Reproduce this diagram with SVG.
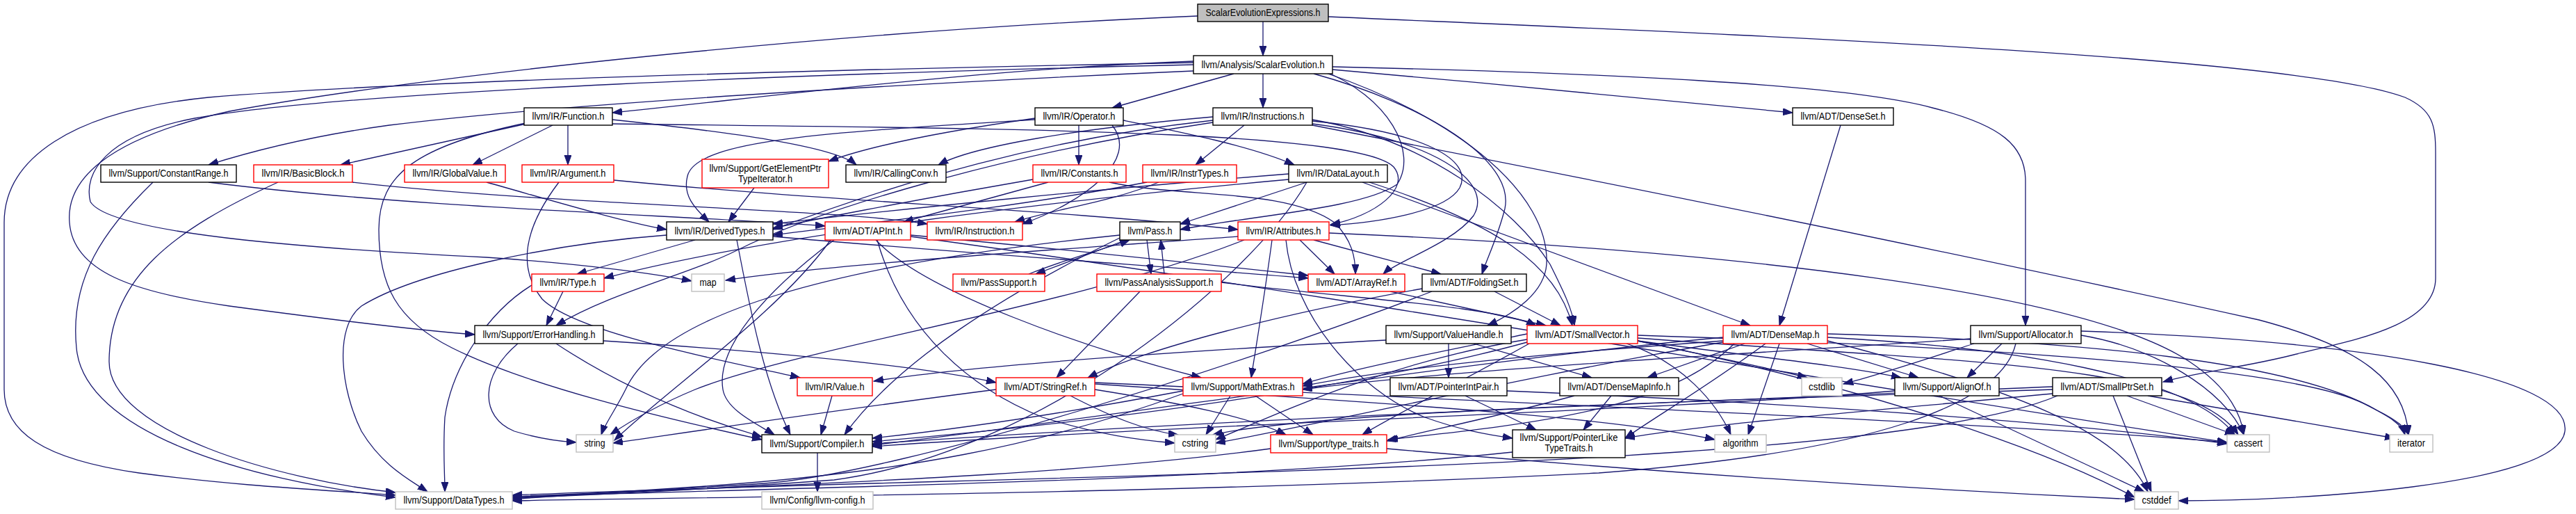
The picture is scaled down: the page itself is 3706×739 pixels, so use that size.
<svg xmlns="http://www.w3.org/2000/svg" width="3706" height="739" viewBox="0 0 3706 739">
<defs>
<marker id="ah" markerUnits="userSpaceOnUse" markerWidth="16" markerHeight="12" refX="14" refY="5" orient="auto">
<path d="M0,0 L14,5 L0,10 z" fill="#191970" stroke="#191970" stroke-width="1"/>
</marker>
<style>
.node rect{fill:#fff;stroke-width:1.4}
.node .b{stroke:#000}
.node .r{stroke:#ff0000}
.node .g{stroke:#bfbfbf}
.node .root{stroke:#000;fill:#bfbfbf}
.node text{font-family:"Liberation Sans",Arial,sans-serif;font-size:14px;fill:#000;text-anchor:middle}
#edges path{fill:none;stroke:#191970;stroke-width:1.3;marker-end:url(#ah)}
</style>
</defs>
<rect width="3706" height="739" fill="#fff"/>
<g id="edges">
<path d="M1817,31 L1817,80"/>
<path d="M1911,24 C2500,50 3300,80 3460,140 C3500,158 3504,180 3504,220 L3504,400 C3504,470 3380,490 3300,510 C3230,528 3160,535 3112,549"/>
<path d="M1723,23 C1200,45 600,110 330,160 C150,200 95,260 100,320 C105,390 190,420 330,440 C480,460 600,475 683,481"/>
<path d="M1717,88 C1400,100 1100,140 881,162"/>
<path d="M1775,106 L1600,155"/>
<path d="M1817,106 L1817,155"/>
<path d="M1917,100 C2150,120 2450,150 2579,162"/>
<path d="M1917,96 C2300,105 2650,120 2780,155 C2880,180 2914,210 2914,260 L2914,468"/>
<path d="M1717,102 C1300,120 800,150 560,180 C450,195 370,215 300,237"/>
<path d="M1717,90 C1200,100 600,115 300,140 C100,160 6,230 6,320 L6,560 C6,620 60,660 200,680 C350,700 480,705 569,712"/>
<path d="M1717,93 C1200,105 500,130 280,170 C150,195 120,250 130,290 C160,340 500,360 700,370 C850,380 950,395 995,404"/>
<path d="M1900,100 C2000,140 2040,220 2010,265 C1960,300 1800,310 1698,330"/>
<path d="M1890,106 C2050,150 2180,230 2165,300 C2155,340 2140,370 2132,394"/>
<path d="M1905,104 C2100,170 2230,280 2225,380 C2222,420 2180,450 2140,468"/>
<path d="M1790,180 L1720,237"/>
<path d="M1888,174 C2050,190 2120,230 2100,270 C2080,305 1980,320 1914,324"/>
<path d="M1888,178 C2060,200 2150,260 2120,310 C2090,350 2010,375 1990,394"/>
<path d="M1888,172 C2050,200 2180,300 2230,380 C2250,420 2262,445 2265,468"/>
<path d="M1745,173 C1500,200 1300,260 1112,330"/>
<path d="M1745,168 C1550,185 1400,210 1350,237"/>
<path d="M1745,176 C1450,220 1180,300 1060,360 C990,395 880,420 800,468"/>
<path d="M1888,180 C2300,260 2800,360 3250,460 C3400,500 3460,550 3465,625"/>
<path d="M1489,170 C1350,190 1250,210 1192,232"/>
<path d="M1552,180 L1552,237"/>
<path d="M1616,173 C1700,190 1800,210 1862,237"/>
<path d="M1489,172 C1200,190 1010,200 990,250 C980,280 1000,300 1020,319"/>
<path d="M1600,180 C1640,230 1560,290 1471,322"/>
<path d="M757,178 L490,237"/>
<path d="M795,180 L680,237"/>
<path d="M817,180 L817,237"/>
<path d="M881,172 C1050,190 1200,210 1232,237"/>
<path d="M881,178 C1400,185 1950,185 2005,240 C2030,270 1980,310 1914,323"/>
<path d="M756,177 C600,210 545,250 545,330 C545,410 570,460 650,500 C760,555 950,600 1096,632"/>
<path d="M1508,262 L1300,319"/>
<path d="M1486,258 C1300,290 1150,320 1112,328"/>
<path d="M1596,262 C1700,285 1850,270 1920,320 C1945,345 1950,370 1950,394"/>
<path d="M1667,262 C1600,290 1520,300 1460,319"/>
<path d="M1650,262 C1450,300 1250,320 1112,338"/>
<path d="M1960,262 L2518,468"/>
<path d="M1970,262 C2150,320 2240,380 2262,468"/>
<path d="M1854,250 C1600,270 1300,300 1112,322"/>
<path d="M1854,258 C1500,290 1100,340 869,400"/>
<path d="M1880,262 C1800,400 1500,650 1200,690 C1000,705 850,712 737,716"/>
<path d="M1880,262 L1698,322"/>
<path d="M1085,270 L1048,319"/>
<path d="M300,262 C600,300 1000,310 1187,325"/>
<path d="M220,262 C150,330 100,400 110,500 C120,620 350,690 569,715"/>
<path d="M507,262 C800,295 1200,300 1334,322"/>
<path d="M400,262 C250,330 157,400 157,520 C157,620 400,690 569,708"/>
<path d="M700,262 C800,290 900,320 959,330"/>
<path d="M883,259 C1200,290 1500,300 1781,330"/>
<path d="M804,262 C760,320 740,380 780,430 C830,480 1050,520 1151,543"/>
<path d="M1000,345 L830,394"/>
<path d="M1112,340 C1400,365 1700,385 1882,400"/>
<path d="M959,338 C800,350 600,390 520,440 C480,470 490,560 520,620 C550,670 590,690 615,707"/>
<path d="M1060,345 C1080,450 1100,550 1137,625"/>
<path d="M1310,338 C1550,360 1780,385 1882,396"/>
<path d="M1260,345 C1330,420 1560,500 1728,543"/>
<path d="M1200,345 C1100,420 1030,500 1040,560 C1045,590 1090,610 1114,625"/>
<path d="M1310,340 C1900,420 2700,560 3204,636"/>
<path d="M1262,345 C1300,480 1400,560 1500,600 C1580,625 1640,633 1690,637"/>
<path d="M1195,345 C1120,450 960,560 884,633"/>
<path d="M1620,345 L1490,394"/>
<path d="M1480,394 C1540,370 1600,355 1625,345"/>
<path d="M1650,345 L1656,394"/>
<path d="M1675,394 L1670,345"/>
<path d="M1611,342 C1450,420 1290,520 1215,625"/>
<path d="M1611,338 C1200,380 950,450 900,560 C885,590 870,610 865,625"/>
<path d="M1757,406 C1950,430 2150,440 2210,468"/>
<path d="M1640,419 L1520,543"/>
<path d="M1870,345 L1920,394"/>
<path d="M1890,345 L2073,394"/>
<path d="M1830,345 C1820,420 1810,480 1800,543"/>
<path d="M1850,345 C1860,450 1950,560 2050,600 C2100,618 2140,625 2176,630"/>
<path d="M1912,335 C2500,360 3000,420 3150,520 C3210,560 3225,600 3228,625"/>
<path d="M1781,340 C1500,360 1200,380 1044,403"/>
<path d="M1790,345 C1550,440 1150,500 1000,560 C940,585 900,610 878,625"/>
<path d="M2000,419 L2224,468"/>
<path d="M2150,419 L2245,468"/>
<path d="M2046,415 C1850,450 1650,500 1565,543"/>
<path d="M2060,419 C1800,520 1300,680 1100,695 C950,705 800,712 737,718"/>
<path d="M868,490 C1100,505 1320,525 1433,550"/>
<path d="M800,494 C900,560 1000,600 1096,628"/>
<path d="M745,494 C690,540 690,600 740,620 C780,632 810,635 829,636"/>
<path d="M2120,494 L2290,543"/>
<path d="M2084,494 L2084,543"/>
<path d="M1994,489 C1700,505 1400,525 1257,548"/>
<path d="M2356,490 C2500,510 2650,525 2735,543"/>
<path d="M2197,492 C1950,560 1550,610 1255,635"/>
<path d="M2197,480 C2050,510 1950,530 1874,552"/>
<path d="M2200,494 C2100,550 2000,600 1960,625"/>
<path d="M2340,494 C2420,520 2470,580 2490,625"/>
<path d="M2356,486 C2800,520 3150,520 3220,625"/>
<path d="M2356,490 C2700,560 2950,650 3071,715"/>
<path d="M2356,490 C2450,510 2550,530 2600,543"/>
<path d="M2197,488 C2000,520 1850,590 1749,632"/>
<path d="M2356,482 C2900,500 3300,530 3400,580 C3440,600 3455,610 3460,625"/>
<path d="M2510,494 L2370,543"/>
<path d="M2600,494 L2760,543"/>
<path d="M2479,485 C2100,520 1600,600 1255,640"/>
<path d="M2479,490 C2200,510 2000,530 1874,555"/>
<path d="M2540,494 C2450,560 2380,600 2338,630"/>
<path d="M2495,494 C2400,590 2200,610 1997,632"/>
<path d="M2560,494 L2515,625"/>
<path d="M2629,485 C2900,500 3150,540 3215,625"/>
<path d="M2629,490 C2900,560 3050,620 3090,707"/>
<path d="M2479,492 C2200,540 1900,610 1749,637"/>
<path d="M2629,480 C3000,490 3300,520 3420,590 C3450,605 3460,615 3465,625"/>
<path d="M2880,494 L2830,543"/>
<path d="M2835,487 C2500,510 2100,530 1874,560"/>
<path d="M2900,494 C2880,580 2700,650 2300,680 C1700,710 1000,715 737,720"/>
<path d="M2994,482 C3100,500 3200,560 3228,625"/>
<path d="M2994,476 C3400,490 3700,540 3690,620 C3680,700 3300,720 3134,720"/>
<path d="M2840,494 C2760,520 2700,540 2652,552"/>
<path d="M1197,569 L1181,625"/>
<path d="M1575,560 C1700,580 1800,600 1850,625"/>
<path d="M1575,552 C1900,575 2300,595 2467,632"/>
<path d="M1575,550 C2200,580 2900,610 3204,636"/>
<path d="M1540,569 C1600,600 1650,620 1695,625"/>
<path d="M1433,560 C1200,590 1000,620 882,637"/>
<path d="M1702,562 C1500,600 1350,620 1255,630"/>
<path d="M1702,566 C1500,640 1300,680 1000,700 C900,707 800,712 737,714"/>
<path d="M1806,569 L1889,625"/>
<path d="M1770,569 L1735,625"/>
<path d="M2108,569 L2210,618"/>
<path d="M2168,562 C2600,580 3000,610 3204,638"/>
<path d="M2318,569 L2278,618"/>
<path d="M2265,569 C2150,600 2050,620 1995,634"/>
<path d="M2726,562 C2400,590 1700,610 1255,642"/>
<path d="M2790,569 L3085,707"/>
<path d="M2953,556 C2500,575 1800,600 1255,638"/>
<path d="M2960,569 C2700,680 1500,680 737,712"/>
<path d="M2953,566 C2700,590 2450,610 2338,630"/>
<path d="M3060,569 L3215,625"/>
<path d="M3040,569 L3095,707"/>
<path d="M2953,560 C2500,575 1900,590 1745,625"/>
<path d="M3090,569 L3445,630"/>
<path d="M1828,645 C1500,690 1000,700 737,716"/>
<path d="M1995,645 C2500,690 2900,710 3071,718"/>
<path d="M2176,650 C1800,690 1200,700 737,714"/>
<path d="M1176,651 L1176,707"/>
<path d="M2648,180 L2560,468"/>
<path d="M810,419 L786,468"/>
<path d="M765,410 C700,450 650,530 640,600 C637,650 640,680 640,707"/>
</g>
<g id="n_see" class="node"><rect class="root" x="1723" y="6" width="188" height="25"/><text x="1817" y="23" textLength="165" lengthAdjust="spacingAndGlyphs">ScalarEvolutionExpressions.h</text></g>
<g id="n_se" class="node"><rect class="b" x="1717" y="80" width="200" height="26"/><text x="1817" y="98" textLength="177" lengthAdjust="spacingAndGlyphs">llvm/Analysis/ScalarEvolution.h</text></g>
<g id="n_function" class="node"><rect class="b" x="754" y="155" width="127" height="25"/><text x="817.5" y="172" textLength="104" lengthAdjust="spacingAndGlyphs">llvm/IR/Function.h</text></g>
<g id="n_operator" class="node"><rect class="b" x="1489" y="155" width="127" height="25"/><text x="1552.5" y="172" textLength="104" lengthAdjust="spacingAndGlyphs">llvm/IR/Operator.h</text></g>
<g id="n_instructions" class="node"><rect class="b" x="1745" y="155" width="143" height="25"/><text x="1816.5" y="172" textLength="120" lengthAdjust="spacingAndGlyphs">llvm/IR/Instructions.h</text></g>
<g id="n_denseset" class="node"><rect class="b" x="2579" y="155" width="145" height="25"/><text x="2651.5" y="172" textLength="122" lengthAdjust="spacingAndGlyphs">llvm/ADT/DenseSet.h</text></g>
<g id="n_constantrange" class="node"><rect class="b" x="145" y="237" width="195" height="25"/><text x="242.5" y="254" textLength="172" lengthAdjust="spacingAndGlyphs">llvm/Support/ConstantRange.h</text></g>
<g id="n_basicblock" class="node"><rect class="r" x="365" y="237" width="142" height="25"/><text x="436" y="254" textLength="119" lengthAdjust="spacingAndGlyphs">llvm/IR/BasicBlock.h</text></g>
<g id="n_globalvalue" class="node"><rect class="r" x="582" y="237" width="145" height="25"/><text x="654.5" y="254" textLength="122" lengthAdjust="spacingAndGlyphs">llvm/IR/GlobalValue.h</text></g>
<g id="n_argument" class="node"><rect class="r" x="751" y="237" width="132" height="25"/><text x="817" y="254" textLength="109" lengthAdjust="spacingAndGlyphs">llvm/IR/Argument.h</text></g>
<g id="n_gepti" class="node"><rect class="r" x="1010" y="229" width="182" height="41"/><text x="1101" y="247" textLength="161" lengthAdjust="spacingAndGlyphs">llvm/Support/GetElementPtr</text><text x="1101" y="262" textLength="78" lengthAdjust="spacingAndGlyphs">TypeIterator.h</text></g>
<g id="n_callingconv" class="node"><rect class="b" x="1217" y="237" width="144" height="25"/><text x="1289" y="254" textLength="121" lengthAdjust="spacingAndGlyphs">llvm/IR/CallingConv.h</text></g>
<g id="n_constants" class="node"><rect class="r" x="1486" y="237" width="134" height="25"/><text x="1553" y="254" textLength="111" lengthAdjust="spacingAndGlyphs">llvm/IR/Constants.h</text></g>
<g id="n_instrtypes" class="node"><rect class="r" x="1644" y="237" width="135" height="25"/><text x="1711.5" y="254" textLength="112" lengthAdjust="spacingAndGlyphs">llvm/IR/InstrTypes.h</text></g>
<g id="n_datalayout" class="node"><rect class="b" x="1854" y="237" width="142" height="25"/><text x="1925" y="254" textLength="119" lengthAdjust="spacingAndGlyphs">llvm/IR/DataLayout.h</text></g>
<g id="n_derivedtypes" class="node"><rect class="b" x="959" y="319" width="153" height="26"/><text x="1035.5" y="337" textLength="130" lengthAdjust="spacingAndGlyphs">llvm/IR/DerivedTypes.h</text></g>
<g id="n_apint" class="node"><rect class="r" x="1187" y="319" width="123" height="26"/><text x="1248.5" y="337" textLength="100" lengthAdjust="spacingAndGlyphs">llvm/ADT/APInt.h</text></g>
<g id="n_instruction" class="node"><rect class="r" x="1334" y="319" width="137" height="26"/><text x="1402.5" y="337" textLength="114" lengthAdjust="spacingAndGlyphs">llvm/IR/Instruction.h</text></g>
<g id="n_pass" class="node"><rect class="b" x="1611" y="319" width="87" height="26"/><text x="1654.5" y="337" textLength="64" lengthAdjust="spacingAndGlyphs">llvm/Pass.h</text></g>
<g id="n_attributes" class="node"><rect class="r" x="1781" y="319" width="131" height="26"/><text x="1846.5" y="337" textLength="108" lengthAdjust="spacingAndGlyphs">llvm/IR/Attributes.h</text></g>
<g id="n_type" class="node"><rect class="r" x="765" y="394" width="104" height="25"/><text x="817" y="411" textLength="81" lengthAdjust="spacingAndGlyphs">llvm/IR/Type.h</text></g>
<g id="n_map" class="node"><rect class="g" x="995" y="394" width="47" height="25"/><text x="1018.5" y="411" textLength="24" lengthAdjust="spacingAndGlyphs">map</text></g>
<g id="n_passsupport" class="node"><rect class="r" x="1371" y="394" width="132" height="25"/><text x="1437" y="411" textLength="109" lengthAdjust="spacingAndGlyphs">llvm/PassSupport.h</text></g>
<g id="n_passanalysis" class="node"><rect class="r" x="1578" y="394" width="179" height="25"/><text x="1667.5" y="411" textLength="156" lengthAdjust="spacingAndGlyphs">llvm/PassAnalysisSupport.h</text></g>
<g id="n_arrayref" class="node"><rect class="r" x="1882" y="394" width="139" height="25"/><text x="1951.5" y="411" textLength="116" lengthAdjust="spacingAndGlyphs">llvm/ADT/ArrayRef.h</text></g>
<g id="n_foldingset" class="node"><rect class="b" x="2046" y="394" width="150" height="25"/><text x="2121" y="411" textLength="127" lengthAdjust="spacingAndGlyphs">llvm/ADT/FoldingSet.h</text></g>
<g id="n_errorhandling" class="node"><rect class="b" x="683" y="468" width="185" height="26"/><text x="775.5" y="486" textLength="162" lengthAdjust="spacingAndGlyphs">llvm/Support/ErrorHandling.h</text></g>
<g id="n_valuehandle" class="node"><rect class="b" x="1994" y="468" width="180" height="26"/><text x="2084" y="486" textLength="157" lengthAdjust="spacingAndGlyphs">llvm/Support/ValueHandle.h</text></g>
<g id="n_smallvector" class="node"><rect class="r" x="2197" y="468" width="159" height="26"/><text x="2276.5" y="486" textLength="136" lengthAdjust="spacingAndGlyphs">llvm/ADT/SmallVector.h</text></g>
<g id="n_densemap" class="node"><rect class="r" x="2479" y="468" width="150" height="26"/><text x="2554" y="486" textLength="127" lengthAdjust="spacingAndGlyphs">llvm/ADT/DenseMap.h</text></g>
<g id="n_allocator" class="node"><rect class="b" x="2835" y="468" width="159" height="26"/><text x="2914.5" y="486" textLength="136" lengthAdjust="spacingAndGlyphs">llvm/Support/Allocator.h</text></g>
<g id="n_value" class="node"><rect class="r" x="1147" y="543" width="108" height="26"/><text x="1201" y="561" textLength="85" lengthAdjust="spacingAndGlyphs">llvm/IR/Value.h</text></g>
<g id="n_stringref" class="node"><rect class="r" x="1433" y="543" width="142" height="26"/><text x="1504" y="561" textLength="119" lengthAdjust="spacingAndGlyphs">llvm/ADT/StringRef.h</text></g>
<g id="n_mathextras" class="node"><rect class="r" x="1702" y="543" width="172" height="26"/><text x="1788" y="561" textLength="149" lengthAdjust="spacingAndGlyphs">llvm/Support/MathExtras.h</text></g>
<g id="n_pointerintpair" class="node"><rect class="b" x="2000" y="543" width="168" height="26"/><text x="2084" y="561" textLength="145" lengthAdjust="spacingAndGlyphs">llvm/ADT/PointerIntPair.h</text></g>
<g id="n_densemapinfo" class="node"><rect class="b" x="2244" y="543" width="171" height="26"/><text x="2329.5" y="561" textLength="148" lengthAdjust="spacingAndGlyphs">llvm/ADT/DenseMapInfo.h</text></g>
<g id="n_cstdlib" class="node"><rect class="g" x="2592" y="543" width="58" height="26"/><text x="2621" y="561" textLength="38" lengthAdjust="spacingAndGlyphs">cstdlib</text></g>
<g id="n_alignof" class="node"><rect class="b" x="2726" y="543" width="150" height="26"/><text x="2801" y="561" textLength="127" lengthAdjust="spacingAndGlyphs">llvm/Support/AlignOf.h</text></g>
<g id="n_smallptrset" class="node"><rect class="b" x="2953" y="543" width="157" height="26"/><text x="3031.5" y="561" textLength="134" lengthAdjust="spacingAndGlyphs">llvm/ADT/SmallPtrSet.h</text></g>
<g id="n_string" class="node"><rect class="g" x="829" y="625" width="53" height="25"/><text x="855.5" y="642" textLength="30" lengthAdjust="spacingAndGlyphs">string</text></g>
<g id="n_compiler" class="node"><rect class="b" x="1096" y="625" width="159" height="26"/><text x="1175.5" y="643" textLength="136" lengthAdjust="spacingAndGlyphs">llvm/Support/Compiler.h</text></g>
<g id="n_cstring" class="node"><rect class="g" x="1690" y="625" width="59" height="25"/><text x="1719.5" y="642" textLength="38" lengthAdjust="spacingAndGlyphs">cstring</text></g>
<g id="n_typetraits" class="node"><rect class="r" x="1828" y="625" width="167" height="26"/><text x="1911.5" y="643" textLength="144" lengthAdjust="spacingAndGlyphs">llvm/Support/type_traits.h</text></g>
<g id="n_pltt" class="node"><rect class="b" x="2176" y="618" width="162" height="40"/><text x="2257" y="634" textLength="141" lengthAdjust="spacingAndGlyphs">llvm/Support/PointerLike</text><text x="2257" y="649" textLength="69" lengthAdjust="spacingAndGlyphs">TypeTraits.h</text></g>
<g id="n_algorithm" class="node"><rect class="g" x="2467" y="625" width="74" height="25"/><text x="2504" y="642" textLength="51" lengthAdjust="spacingAndGlyphs">algorithm</text></g>
<g id="n_cassert" class="node"><rect class="g" x="3204" y="625" width="61" height="25"/><text x="3234.5" y="642" textLength="41" lengthAdjust="spacingAndGlyphs">cassert</text></g>
<g id="n_iterator" class="node"><rect class="g" x="3438" y="625" width="62" height="25"/><text x="3469" y="642" textLength="40" lengthAdjust="spacingAndGlyphs">iterator</text></g>
<g id="n_datatypes" class="node"><rect class="g" x="569" y="707" width="168" height="25"/><text x="653" y="724" textLength="145" lengthAdjust="spacingAndGlyphs">llvm/Support/DataTypes.h</text></g>
<g id="n_llvmconfig" class="node"><rect class="g" x="1096" y="707" width="160" height="25"/><text x="1176" y="724" textLength="137" lengthAdjust="spacingAndGlyphs">llvm/Config/llvm-config.h</text></g>
<g id="n_cstddef" class="node"><rect class="g" x="3071" y="707" width="63" height="25"/><text x="3102.5" y="724" textLength="42" lengthAdjust="spacingAndGlyphs">cstddef</text></g>
</svg>
